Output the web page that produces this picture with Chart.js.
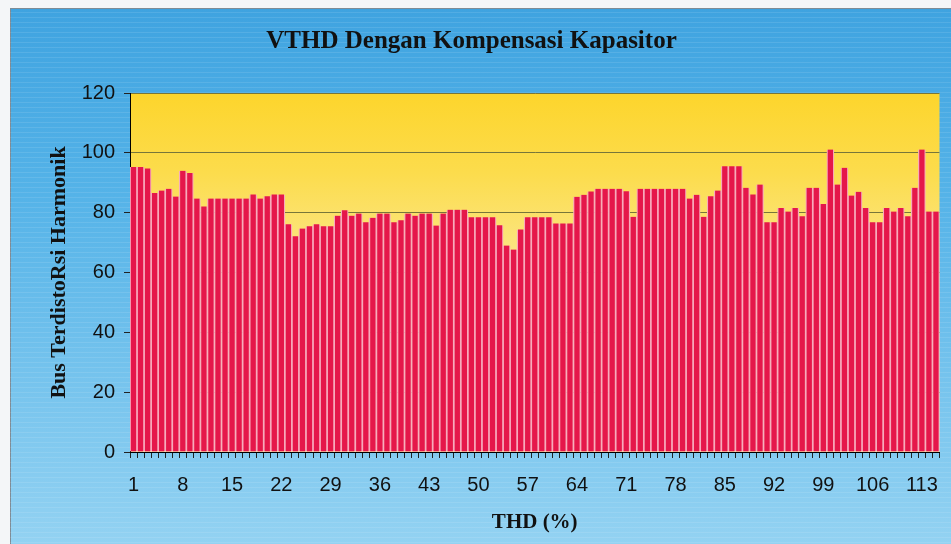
<!DOCTYPE html>
<html>
<head>
<meta charset="utf-8">
<script src="https://cdn.jsdelivr.net/npm/chart.js@4/dist/chart.umd.min.js"></script>
<style>
  html, body { margin: 0; padding: 0; background: #fff; }
  #wrap { width: 951px; height: 544px; }
</style>
</head>
<body>
<div id="wrap"><canvas id="chart" width="951" height="544"></canvas></div>
<script>
const busNumbers = Array.from({ length: 115 }, (_, i) => String(i + 1))
const shownTicks = ['1', '8', '15', '22', '29', '36', '43', '50', '57', '64', '71', '78', '85', '92', '99', '106', '113']
const thdValues = [
  95.3, 95.3, 94.8, 86.6, 87.4, 88.0, 85.4, 94.0, 93.3, 84.7,
  82.1, 84.7, 84.7, 84.7, 84.7, 84.7, 84.7, 86.1, 84.7, 85.5,
  86.1, 86.1, 76.1, 72.1, 74.7, 75.5, 76.1, 75.5, 75.5, 79.0,
  80.8, 79.0, 79.7, 76.8, 78.3, 79.7, 79.7, 76.8, 77.5, 79.7,
  79.0, 79.7, 79.7, 75.7, 79.7, 81.0, 81.0, 81.0, 78.5, 78.5,
  78.5, 78.5, 75.8, 69.0, 67.7, 74.4, 78.5, 78.5, 78.5, 78.5,
  76.4, 76.4, 76.4, 85.3, 86.0, 87.1, 88.0, 88.0, 88.0, 88.0,
  87.2, 78.6, 88.0, 88.0, 88.0, 88.0, 88.0, 88.0, 88.0, 84.7,
  86.0, 78.6, 85.5, 87.4, 95.5, 95.5, 95.5, 88.3, 86.1, 89.4,
  76.8, 76.8, 81.6, 80.4, 81.6, 78.8, 88.3, 88.3, 82.9, 101.1,
  89.4, 95.0, 85.7, 87.0, 81.6, 76.8, 76.8, 81.6, 80.4, 81.6,
  78.8, 88.3, 101.1, 80.4, 80.4
]

// blue frame behind everything + yellow plot area
const backdrop = {
  id: 'backdrop',
  beforeDraw(chart) {
    const { ctx, chartArea: a, width, height } = chart
    ctx.save()
    ctx.fillStyle = '#f4f6f8'
    ctx.fillRect(0, 0, width, height)
    const bg = ctx.createLinearGradient(0, 8, 0, height)
    bg.addColorStop(0, '#3fa3e0')
    bg.addColorStop(0.35, '#55b3e8')
    bg.addColorStop(1, '#93d2f2')
    ctx.fillStyle = bg
    ctx.fillRect(10, 8, width - 10, height - 8)
    ctx.strokeStyle = '#7f8c96'
    ctx.lineWidth = 1
    ctx.beginPath()
    ctx.moveTo(10.5, height)
    ctx.lineTo(10.5, 8.5)
    ctx.lineTo(width, 8.5)
    ctx.stroke()
    // faint streaks
    ctx.strokeStyle = 'rgba(255,255,255,0.10)'
    for (let y = 12; y < height; y += 5) {
      ctx.beginPath()
      ctx.moveTo(10, y + 0.5)
      ctx.lineTo(width, y + 0.5)
      ctx.stroke()
    }
    const yl = ctx.createLinearGradient(0, a.top, 0, a.bottom)
    yl.addColorStop(0, '#fdd52c')
    yl.addColorStop(0.22, '#fcdc4c')
    yl.addColorStop(0.5, '#fbe88f')
    yl.addColorStop(1, '#fbeeb0')
    ctx.fillStyle = yl
    ctx.fillRect(a.left, a.top, a.right - a.left, a.bottom - a.top)
    ctx.restore()
  }
}

const ctx = document.getElementById('chart').getContext('2d')
new Chart(ctx, {
  type: 'bar',
  data: {
    labels: busNumbers,
    datasets: [{
      label: 'VTHD',
      data: thdValues,
      backgroundColor: '#e5174a',
      borderColor: '#f7abbc',
      borderWidth: { left: 1.2, right: 1.2, top: 0, bottom: 0 },
      borderSkipped: false,
      barPercentage: 1,
      categoryPercentage: 1
    }]
  },
  options: {
    responsive: false,
    animation: false,
    layout: { padding: { left: 0, right: 8, top: 0, bottom: 0 } },
    plugins: {
      legend: { display: false },
      tooltip: { enabled: false },
      title: {
        display: true,
        text: 'VTHD Dengan Kompensasi Kapasitor',
        color: '#111',
        font: { family: 'Liberation Serif', size: 25, weight: 'bold' },
        padding: { top: 27, bottom: 36 }
      }
    },
    scales: {
      x: {
        afterFit(scale) { scale.height = 92 },
        grid: {
          drawOnChartArea: false,
          drawTicks: true,
          tickLength: 6,
          tickColor: '#222'
        },
        border: { display: true, color: '#000', width: 1 },
        ticks: {
          autoSkip: false,
          maxRotation: 0,
          minRotation: 0,
          padding: 15,
          color: '#111',
          font: { family: 'Liberation Sans', size: 20 },
          callback(value, index) {
            const lab = busNumbers[index]
            return shownTicks.includes(lab) ? lab : ''
          }
        },
        title: {
          display: true,
          text: 'THD (%)',
          color: '#111',
          font: { family: 'Liberation Serif', size: 21, weight: 'bold' },
          padding: { top: 4, bottom: 9 }
        }
      },
      y: {
        min: 0,
        max: 120,
        afterFit(scale) { scale.width = 130 },
        grid: {
          color: '#77763a',
          lineWidth: 1,
          tickLength: 6,
          tickColor: '#222'
        },
        border: { display: true, color: '#000', width: 1 },
        ticks: {
          stepSize: 20,
          padding: 9,
          color: '#111',
          font: { family: 'Liberation Sans', size: 20 }
        },
        title: {
          display: true,
          text: 'Bus TerdistoRsi Harmonik',
          color: '#111',
          font: { family: 'Liberation Serif', size: 22, weight: 'bold' },
          padding: { top: 46, bottom: 0 }
        }
      }
    }
  },
  plugins: [backdrop]
})
</script>
</body>
</html>
